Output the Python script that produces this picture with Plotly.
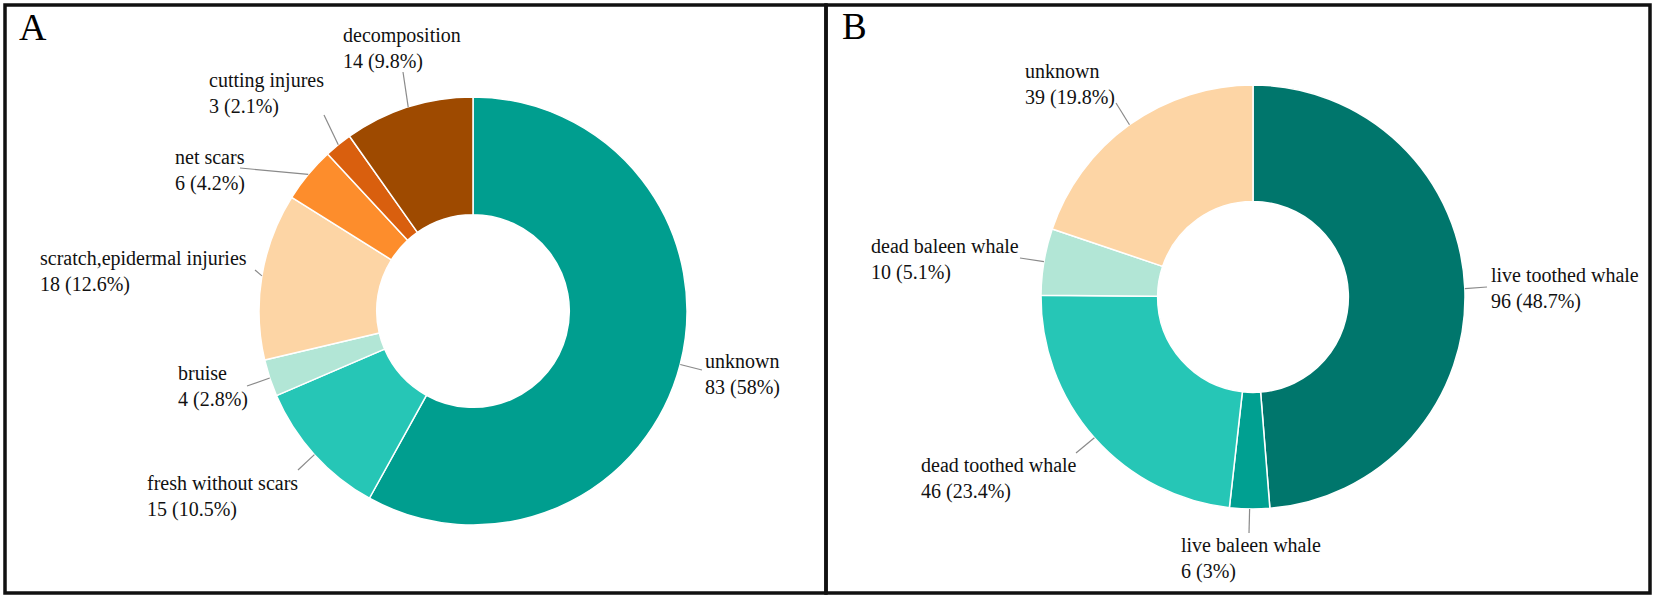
import math
import plotly.graph_objects as go

# panel A: injury types
a_labels = ["unknown", "fresh without scars", "bruise", "scratch,epidermal injuries",
            "net scars", "cutting injures", "decomposition"]
a_values = [83, 15, 4, 18, 6, 3, 14]
a_colors = ["#009e8f", "#26c6b6", "#b2e6d6", "#fdd5a5", "#fd8d2c", "#d95f0e", "#9e4a00"]

# panel B: whale groups
b_labels = ["live toothed whale", "live baleen whale", "dead toothed whale",
            "dead baleen whale", "unknown"]
b_values = [96, 6, 46, 10, 39]
b_colors = ["#00766c", "#00a091", "#26c6b6", "#b2e6d6", "#fdd5a5"]

W, H = 1654, 599
FONT = "Liberation Serif"

# layout: pie centre/radius in px, label top-left and leader end point in px
PIE_A = (473, 311, 214)
PIE_B = (1253, 297, 212)
a_text_pos = [(703, 348), (145, 470), (176, 360), (38, 245), (173, 144), (207, 67), (341, 22)]
a_line_end = [(702, 370), (298, 470), (247, 386), (255, 270), (240, 168), (324, 115), (403, 72)]
b_text_pos = [(1489, 262), (1179, 532), (919, 452), (869, 233), (1023, 58)]
b_line_end = [(1487, 287), (1249, 533), (1076, 453), (1020, 258), (1116, 103)]


def fx(x):
    return x / W


def fy(y):
    return 1 - y / H


def pct(v, total):
    s = f"{round(v / total * 100, 1):.1f}"
    return s[:-2] if s.endswith(".0") else s


fig = go.Figure()
shapes = []
annotations = []

for labels, values, colors, pie, text_pos, line_end in [
    (a_labels, a_values, a_colors, PIE_A, a_text_pos, a_line_end),
    (b_labels, b_values, b_colors, PIE_B, b_text_pos, b_line_end),
]:
    cx, cy, r = pie
    fig.add_trace(
        go.Pie(
            labels=labels,
            values=values,
            hole=0.45,
            sort=False,
            direction="clockwise",
            rotation=0,
            marker=dict(colors=colors, line=dict(color="white", width=1.5)),
            textinfo="none",
            showlegend=False,
            domain=dict(x=[fx(cx - r), fx(cx + r)], y=[fy(cy + r), fy(cy - r)]),
        )
    )
    total = sum(values)
    cum = 0
    for lab, v, tp, le in zip(labels, values, text_pos, line_end):
        # leader line starts on the outer edge at the slice's mid-angle
        mid = 2 * math.pi * (cum + v / 2) / total
        cum += v
        sx = cx + r * math.sin(mid)
        sy = cy - r * math.cos(mid)
        shapes.append(dict(type="line", xref="paper", yref="paper",
                           x0=fx(sx), y0=fy(sy), x1=fx(le[0]), y1=fy(le[1]),
                           line=dict(color="#8a8a8a", width=1.2)))
        annotations.append(dict(
            x=fx(tp[0]), y=fy(tp[1]), xref="paper", yref="paper",
            xanchor="left", yanchor="top", align="left", showarrow=False,
            text=f"{lab}<br>{v} ({pct(v, total)}%)",
            font=dict(family=FONT, size=20, color="#111"),
        ))

# panel letters
annotations.append(dict(x=fx(17), y=fy(4), xref="paper", yref="paper", xanchor="left",
                        yanchor="top", showarrow=False, text="A",
                        font=dict(family=FONT, size=38, color="#000")))
annotations.append(dict(x=fx(840), y=fy(4), xref="paper", yref="paper", xanchor="left",
                        yanchor="top", showarrow=False, text="B",
                        font=dict(family=FONT, size=37, color="#000")))

# panel frames
for x0, x1 in [(5, 826), (826, 1650)]:
    shapes.append(dict(type="rect", xref="paper", yref="paper",
                       x0=fx(x0), x1=fx(x1), y0=fy(593), y1=fy(5),
                       line=dict(color="#111", width=3.5)))

fig.update_layout(
    width=W,
    height=H,
    margin=dict(l=0, r=0, t=0, b=0),
    paper_bgcolor="white",
    plot_bgcolor="white",
    font=dict(family=FONT),
    shapes=shapes,
    annotations=annotations,
)

fig.write_html("out.html", config={"displayModeBar": False},
               post_script="document.body.style.margin='0';")
